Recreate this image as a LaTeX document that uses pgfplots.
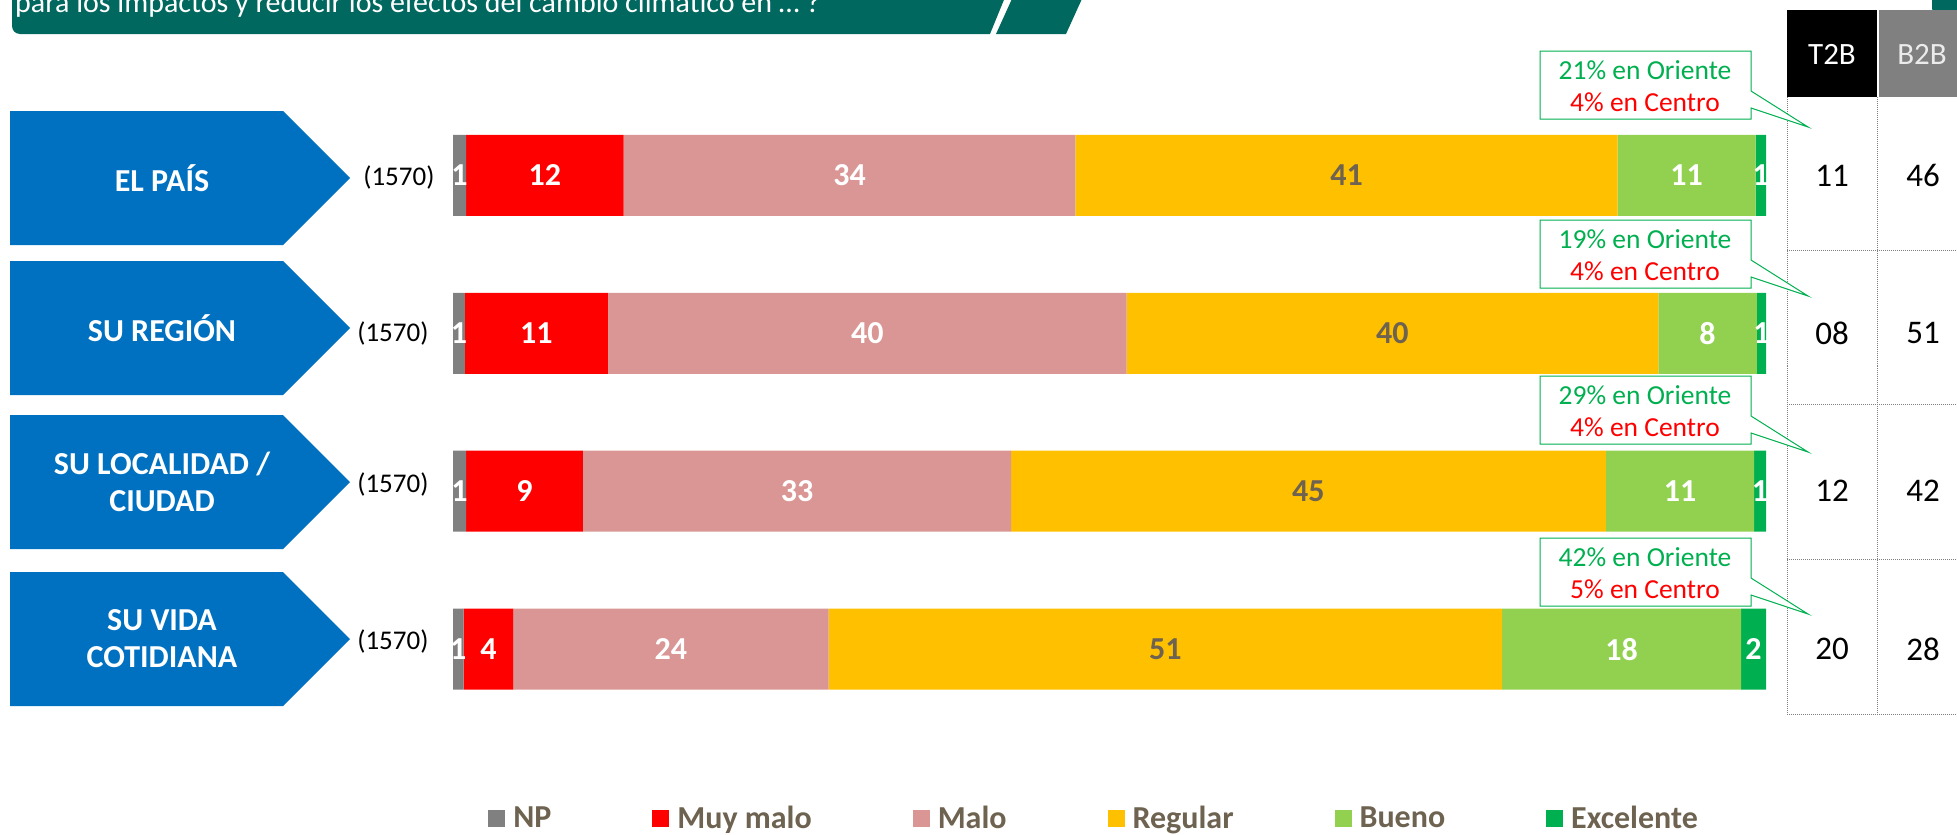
\documentclass[border=0pt]{standalone}
\usepackage{pgfplots}
\usepackage{pgfplotstable}
\pgfplotsset{compat=1.18}
\usepackage{fontspec}
\setmainfont{Carlito}
\definecolor{cNP}{HTML}{808080}
\definecolor{cMM}{HTML}{FF0000}
\definecolor{cMA}{HTML}{DA9694}
\definecolor{cRE}{HTML}{FFC000}
\definecolor{cBU}{HTML}{92D050}
\definecolor{cEX}{HTML}{00B050}
\definecolor{cBlue}{HTML}{0070C0}
\definecolor{cTeal}{HTML}{00685F}
\definecolor{cTxt}{HTML}{6E6250}
\definecolor{cRed}{HTML}{FF0000}

% segment lengths (as drawn) and printed labels; y=4 EL PAIS ... y=1 SU VIDA COTIDIANA
\pgfplotstableread{
y  np   lnp mm    lmm ma    lma re    lre bu    lbu ex   lex
4  1.0  1   12.0  12  34.4  34  41.3  41  10.5  11  0.8  1
3  0.9  1   10.9  11  39.5  40  40.5  40  7.5   8   0.7  1
2  1.0  1   8.9   9   32.6  33  45.3  45  11.3  11  0.9  1
1  0.8  1   3.8   4   24.0  24  51.3  51  18.2  18  1.9  2
}\datatable

\newcommand{\fs}[2]{\fontsize{#1bp}{#2bp}\selectfont}

\begin{document}
\begin{tikzpicture}
\useasboundingbox (0,0) rectangle (1957bp,-835bp);
\begin{scope}[x=1bp,y=-1bp]
  % title banner (cut at top)
  \fill[cTeal] (12,-10) -- (1008,-10) -- (990,34) -- (20,34) to[out=180,in=270] (12,26) -- cycle;
  \fill[cTeal] (1016,-10) -- (1086,-10) -- (1066,34) -- (996,34) -- cycle;
  \node[anchor=base west, inner sep=0, text=white, font=\fs{30}{36}] at (15,12)
    {para los impactos y reducir los efectos del cambio climático en … ?};
  \fill[cTeal, rounded corners=6bp] (1932,-20) rectangle (1975,14);

  % category arrows
  \foreach \c/\t in {178/{EL PAÍS}, 328/{SU REGIÓN}, 482/{SU LOCALIDAD /\\CIUDAD}, 639/{SU VIDA\\COTIDIANA}}{
    \fill[cBlue] (10,\c-67) -- (283,\c-67) -- (350,\c) -- (283,\c+67) -- (10,\c+67) -- cycle;
    \node[align=center, text=white, font=\fs{32}{37}\bfseries] at (162,\c) {\t};
  }
  \node[anchor=east, font=\fs{27}{30}] at (438,177) {(1570)};
  \node[anchor=east, font=\fs{27}{30}] at (432,333) {(1570)};
  \node[anchor=east, font=\fs{27}{30}] at (432,484) {(1570)};
  \node[anchor=east, font=\fs{27}{30}] at (432,641) {(1570)};

  % T2B / B2B table
  \fill[black] (1787,10) rectangle (1877,97);
  \fill[cNP] (1879,10) rectangle (1965,97);
  \node[text=white, font=\fs{31}{34}] at (1832,54) {T2B};
  \node[text=white!92!black, font=\fs{31}{34}] at (1922,54) {B2B};
  \draw[gray, densely dotted, line width=1bp] (1787,97) -- (1787,714);
  \draw[gray, densely dotted, line width=1bp] (1877,97) -- (1877,714);
  \foreach \yy in {250,404,559,714}{
    \draw[gray, densely dotted, line width=1bp] (1787,\yy) -- (1960,\yy);
  }
  \foreach \c/\a/\b in {175.5/11/46, 333/08/51, 491/12/42, 649/20/28}{
    \node[font=\fs{33}{36}] at (1832,\c) {\a};
    \node[font=\fs{33}{36}] at (1923,\c) {\b};
  }

  % callouts
  \foreach \T/\g/\r in {51/21/4, 220/19/4, 376/29/4, 538/42/5}{
    \draw[cEX, line width=1bp, fill=white] (1540,\T) -- (1751,\T) -- (1751,\T+40) -- (1808,\T+76)
      -- (1751,\T+57) -- (1751,\T+68) -- (1540,\T+68) -- cycle;
    \node[text=cEX, font=\fs{27.5}{30}] at (1645,\T+19) {\g\% en Oriente};
    \node[text=cRed, font=\fs{27.5}{30}] at (1645,\T+51) {\r\% en Centro};
  }
\end{scope}

\begin{axis}[
  at={(453bp,-728bp)}, anchor=south west,
  scale only axis, width=1313bp, height=631.5bp,
  xbar stacked, bar width=81bp,
  xmin=0, xmax=100, ymin=0.5, ymax=4.5,
  hide axis, clip=false,
  point meta=explicit symbolic,
  nodes near coords,
  every node near coord/.append style={anchor=center, inner sep=0pt,
     font=\fs{32}{32}\bfseries},
  legend image code/.code={\fill[#1] (0bp,-8.5bp) rectangle (17bp,8.5bp);},
  legend style={at={(0.0267,-0.1425)}, anchor=west, draw=none, fill=none,
     inner sep=0pt, font=\fs{32}{32}\bfseries, text=cTxt, legend columns=6,
     /tikz/every odd column/.append style={column sep=6bp},
     /tikz/every even column/.append style={column sep=99bp}},
]
\addplot[fill=cNP, draw=none, every node near coord/.append style={text=white}]
  table[x=np, y=y, meta=lnp] {\datatable};
\addplot[fill=cMM, draw=none, every node near coord/.append style={text=white}]
  table[x=mm, y=y, meta=lmm] {\datatable};
\addplot[fill=cMA, draw=none, every node near coord/.append style={text=white}]
  table[x=ma, y=y, meta=lma] {\datatable};
\addplot[fill=cRE, draw=none, every node near coord/.append style={text=cTxt}]
  table[x=re, y=y, meta=lre] {\datatable};
\addplot[fill=cBU, draw=none, every node near coord/.append style={text=white}]
  table[x=bu, y=y, meta=lbu] {\datatable};
\addplot[fill=cEX, draw=none, every node near coord/.append style={text=white}]
  table[x=ex, y=y, meta=lex] {\datatable};
\legend{NP, Muy malo, Malo, Regular, Bueno, Excelente}
\end{axis}
\end{tikzpicture}
\end{document}
